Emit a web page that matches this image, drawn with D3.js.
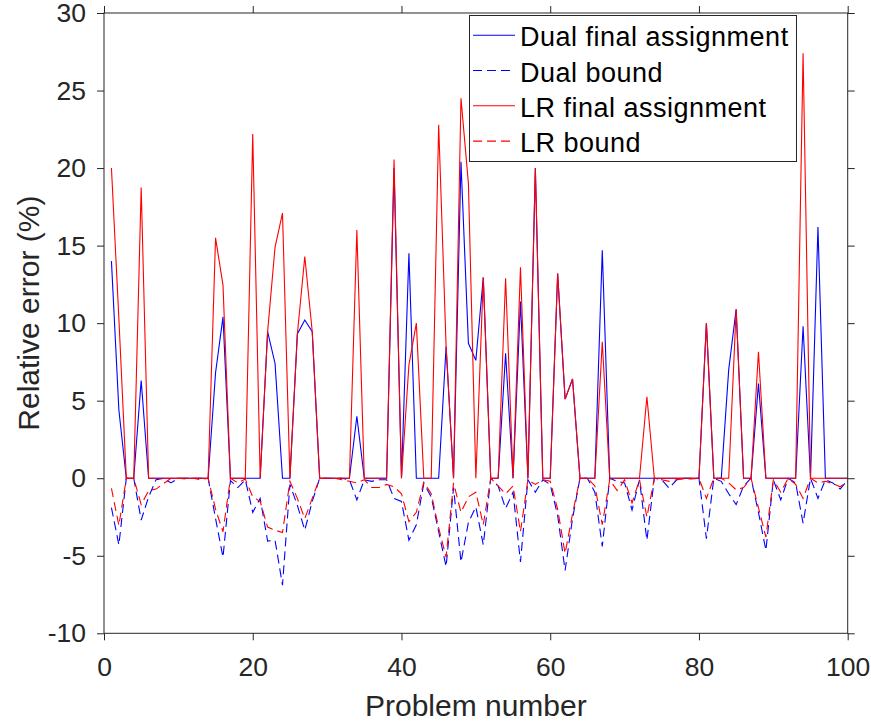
<!DOCTYPE html>
<html>
<head>
<meta charset="utf-8">
<script src="https://cdn.jsdelivr.net/npm/d3@7"></script>
<style>
  html, body { margin: 0; padding: 0; background: #fff; }
  svg { display: block; }
  text { font-family: "Liberation Sans", Arial, Helvetica, sans-serif; }
</style>
</head>
<body>
<svg id="chart" width="871" height="721"></svg>
<script>
// Relative error per problem (%), problems 1..100
const problems = d3.range(1, 101);

const dualFinal = [
  14.0, 4.4, 0, 0, 6.3, 0, 0, 0, 0, 0,
  0, 0, 0, 0, 6.8, 10.4, 0, 0, 0, 0,
  0, 9.45, 7.4, 0, 0, 9.3, 10.2, 9.45, 0, 0,
  0, 0, 0, 4.0, 0, 0, 0, 0, 20.0, 0,
  14.5, 0, 0, 0, 0, 8.5, 0, 20.4, 8.7, 7.6,
  12.95, 0, 0, 8.05, 0, 11.4, 0, 20.0, 0, 0,
  13.2, 5.1, 6.4, 0, 0, 0, 14.7, 0, 0, 0,
  0, 0, 0, 0, 0, 0, 0, 0, 0, 0,
  10.0, 0, 0, 7.0, 10.9, 0, 0, 6.1, 0, 0,
  0, 0, 0, 9.8, 0, 16.2, 0, 0, 0, 0
];

const dualBound = [
  -1.9, -4.3, 0, 0, -2.7, -1.2, -0.1, 0, -0.3, 0,
  0, 0, 0, 0, -2.6, -5.1, -0.15, -0.6, -0.1, -2.2,
  -1.3, -4.05, -4.0, -6.9, -0.4, -1.75, -3.35, -1.5, 0, 0,
  0, 0, -0.1, -1.4, -0.1, -0.2, -0.1, -0.1, -1.3, -1.5,
  -4.0, -3.0, -0.35, -1.2, -3.45, -5.7, -0.6, -5.4, -2.85, -1.85,
  -4.3, 0, -0.5, -1.95, -0.9, -5.4, -0.1, -0.9, -0.1, -0.4,
  -2.4, -5.95, -2.6, 0, 0, -0.9, -4.4, 0, -0.2, -0.3,
  -2.05, -0.1, -4.0, 0, -0.1, -0.65, -0.1, 0, 0, 0,
  -3.9, 0, -0.2, -1.0, -1.7, -0.5, 0, -2.2, -4.65, -0.1,
  -1.4, 0, -0.3, -2.9, 0, -1.3, -0.1, -0.3, -0.7, -0.1
];

const lrFinal = [
  20.0, 10.3, 0, 0, 18.75, 0, 0, 0, 0, 0,
  0, 0, 0, 0, 15.5, 12.45, 0, 0, 0, 22.2,
  0, 9.45, 14.9, 17.1, 0, 9.3, 14.3, 9.45, 0, 0,
  0, 0, 0, 16.0, 0, 0, 0, 0, 20.55, 0,
  7.3, 10.0, 0, 0, 22.8, 8.5, 0, 24.5, 19.0, 0,
  12.95, 0, 0, 12.9, 0, 13.6, 0, 20.0, 0, 0,
  13.2, 5.1, 6.4, 0, 0, 0, 8.8, 0, 0, 0,
  0, 0, 5.25, 0, 0, 0, 0, 0, 0, 0,
  10.0, 0, 0, 0, 10.9, 0, 0, 8.15, 0, 0,
  0, 0, 0, 27.4, 0, 0, 0, 0, 0, 0
];

const lrBound = [
  -0.65, -3.05, 0, 0, -1.7, -0.8, -0.7, -0.35, 0, 0,
  -0.05, 0, -0.1, 0, -2.0, -3.45, 0, -0.3, -0.05, -1.2,
  -1.5, -3.15, -3.35, -3.5, -0.2, -1.3, -2.6, -1.3, 0, 0,
  0, -0.1, -0.2, -0.3, -0.1, -0.6, -0.6, -0.4, -0.55, -1.0,
  -2.8, -2.2, -0.25, -1.0, -3.2, -5.1, -0.3, -2.2, -1.2, -0.9,
  -3.0, 0, -0.5, -1.0, -0.5, -3.45, -0.1, -0.4, -0.1, -0.2,
  -2.0, -4.85, -2.3, 0, 0, -0.5, -3.0, -0.1, -0.8, -0.1,
  -1.6, -0.1, -2.5, 0, -0.1, -0.2, -0.1, -0.05, -0.05, 0,
  -1.3, 0, 0, -0.3, -0.75, -0.6, 0, -1.9, -3.8, -0.1,
  -0.9, 0, -0.4, -1.3, 0, -0.3, -0.2, -0.35, -0.55, -0.2
];

const xTicks = [0, 20, 40, 60, 80, 100];
const yTicks = [-10, -5, 0, 5, 10, 15, 20, 25, 30];

const seriesNames = ["Dual final assignment", "Dual bound", "LR final assignment", "LR bound"];
const seriesValues = [dualFinal, dualBound, lrFinal, lrBound];
const seriesColors = ["#0000ff", "#0000ff", "#ff0000", "#ff0000"];
const seriesDashed = [false, true, false, true];

const axisColor = "#262626";
const dashPattern = "9,5";

const svg = d3.select("#chart");
const W = 871, H = 721;
const margin = { left: 104, right: 23.3, top: 13, bottom: 87.7 };
const plotW = W - margin.left - margin.right;
const plotH = H - margin.top - margin.bottom;

const x = d3.scaleLinear().domain([0, 100]).range([margin.left, margin.left + plotW]);
const y = d3.scaleLinear().domain([-10, 30]).range([margin.top + plotH, margin.top]);

const fmt = d => String(d);

// Series lines
const line = d3.line().x((d, i) => x(problems[i])).y(d => y(d));
const lines = svg.append("g");
seriesValues.forEach((vals, k) => {
  lines.append("path")
    .datum(vals)
    .attr("d", line)
    .attr("fill", "none")
    .attr("stroke", seriesColors[k])
    .attr("stroke-width", 1.1)
    .attr("stroke-dasharray", seriesDashed[k] ? dashPattern : null)
    .attr("stroke-linejoin", "miter");
});

// Axes on all four sides, ticks outward
function styleAxis(g) {
  g.select(".domain").remove();
  g.selectAll(".tick line").attr("stroke", axisColor).attr("stroke-width", 1);
  g.selectAll(".tick text").attr("fill", axisColor).style("font-size", "26.5px");
}

svg.append("g")
  .attr("transform", `translate(0,${margin.top + plotH})`)
  .call(d3.axisBottom(x).tickValues(xTicks).tickFormat(fmt).tickSizeInner(7).tickSizeOuter(0).tickPadding(17))
  .call(styleAxis);

svg.append("g")
  .attr("transform", `translate(0,${margin.top})`)
  .call(d3.axisTop(x).tickValues(xTicks).tickFormat("").tickSizeInner(7).tickSizeOuter(0))
  .call(styleAxis);

svg.append("g")
  .attr("transform", `translate(${margin.left},0)`)
  .call(d3.axisLeft(y).tickValues(yTicks).tickFormat(fmt).tickSizeInner(7).tickSizeOuter(0).tickPadding(11))
  .call(styleAxis);

svg.append("g")
  .attr("transform", `translate(${margin.left + plotW},0)`)
  .call(d3.axisRight(y).tickValues(yTicks).tickFormat("").tickSizeInner(7).tickSizeOuter(0))
  .call(styleAxis);

// Box around the plot area
svg.append("rect")
  .attr("x", margin.left).attr("y", margin.top)
  .attr("width", plotW).attr("height", plotH)
  .attr("fill", "none").attr("stroke", axisColor).attr("stroke-width", 1);

// Axis titles
svg.append("text")
  .attr("x", margin.left + plotW / 2).attr("y", 716)
  .attr("text-anchor", "middle")
  .attr("fill", axisColor)
  .style("font-size", "30px")
  .text("Problem number");

svg.append("text")
  .attr("transform", `translate(39,${margin.top + plotH / 2 - 10}) rotate(-90)`)
  .attr("text-anchor", "middle")
  .attr("fill", axisColor)
  .style("font-size", "30px")
  .text("Relative error (%)");

// Legend
const legend = svg.append("g");
legend.append("rect")
  .attr("x", 469.5).attr("y", 15.5)
  .attr("width", 327).attr("height", 146)
  .attr("fill", "#fff").attr("stroke", axisColor).attr("stroke-width", 1);

seriesNames.forEach((name, k) => {
  const cy = 35.2 + k * 35.3;
  legend.append("line")
    .attr("x1", 473).attr("x2", 515)
    .attr("y1", cy).attr("y2", cy)
    .attr("stroke", seriesColors[k])
    .attr("stroke-width", 1.1)
    .attr("stroke-dasharray", seriesDashed[k] ? dashPattern : null);
  legend.append("text")
    .attr("x", 520).attr("y", cy + 11)
    .attr("fill", "#000")
    .style("font-size", "27px")
    .style("letter-spacing", "0.5px")
    .text(name);
});
</script>
</body>
</html>
